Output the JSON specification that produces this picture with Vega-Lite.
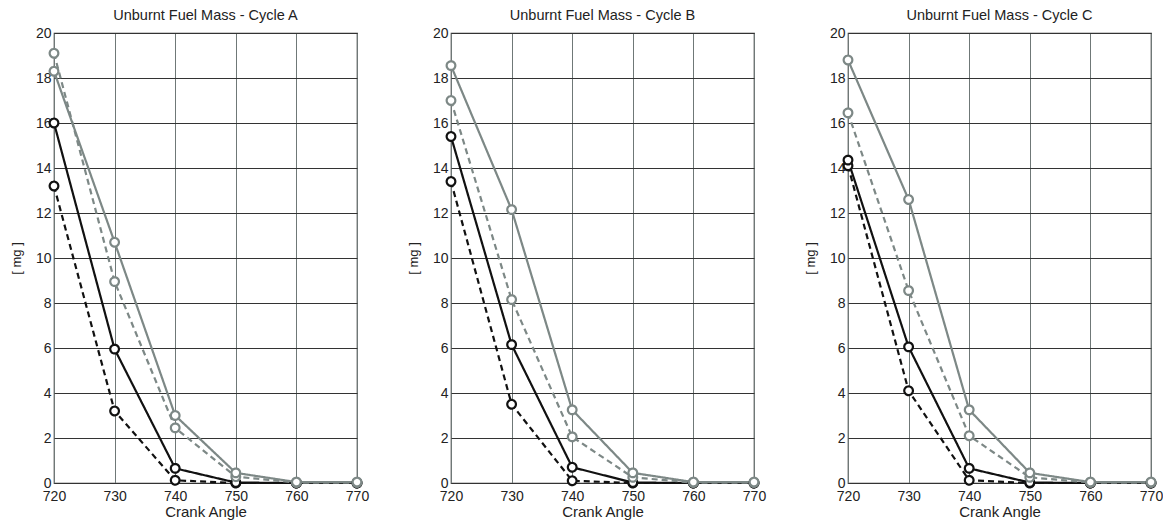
{
  "$schema": "https://vega.github.io/schema/vega-lite/v6.json",
  "padding": {"left": 9, "top": 6, "right": 2, "bottom": 3},
  "background": "white",
  "config": {
    "font": "Liberation Sans",
    "view": {"stroke": "#333333", "strokeWidth": 1.2},
    "axis": {
      "labelFont": "Liberation Sans", "labelFontSize": 14, "labelColor": "#222222",
      "titleFont": "Liberation Sans", "titleFontWeight": "normal", "titleColor": "#222222",
      "domain": false, "ticks": false, "grid": true, "gridOpacity": 1
    },
    "axisX": {"titleFontSize": 15},
    "axisY": {"titleFontSize": 13},
    "title": {"font": "Liberation Sans", "fontSize": 14.5, "fontWeight": "normal", "color": "#222222", "offset": 3},
    "concat": {"spacing": 36}
  },
  "data": {"values": [
    {"cycle": "A", "series": "black dashed", "angle": 720, "mass": 13.2},
    {"cycle": "A", "series": "black dashed", "angle": 730, "mass": 3.2},
    {"cycle": "A", "series": "black dashed", "angle": 740, "mass": 0.12},
    {"cycle": "A", "series": "black dashed", "angle": 750, "mass": 0.0},
    {"cycle": "A", "series": "black dashed", "angle": 760, "mass": 0.0},
    {"cycle": "A", "series": "black dashed", "angle": 770, "mass": 0.0},
    {"cycle": "A", "series": "black solid", "angle": 720, "mass": 16.0},
    {"cycle": "A", "series": "black solid", "angle": 730, "mass": 5.95},
    {"cycle": "A", "series": "black solid", "angle": 740, "mass": 0.65},
    {"cycle": "A", "series": "black solid", "angle": 750, "mass": 0.02},
    {"cycle": "A", "series": "black solid", "angle": 760, "mass": 0.0},
    {"cycle": "A", "series": "black solid", "angle": 770, "mass": 0.0},
    {"cycle": "A", "series": "gray dashed", "angle": 720, "mass": 19.1},
    {"cycle": "A", "series": "gray dashed", "angle": 730, "mass": 8.95},
    {"cycle": "A", "series": "gray dashed", "angle": 740, "mass": 2.45},
    {"cycle": "A", "series": "gray dashed", "angle": 750, "mass": 0.28},
    {"cycle": "A", "series": "gray dashed", "angle": 760, "mass": 0.02},
    {"cycle": "A", "series": "gray dashed", "angle": 770, "mass": 0.02},
    {"cycle": "A", "series": "gray solid", "angle": 720, "mass": 18.3},
    {"cycle": "A", "series": "gray solid", "angle": 730, "mass": 10.7},
    {"cycle": "A", "series": "gray solid", "angle": 740, "mass": 3.0},
    {"cycle": "A", "series": "gray solid", "angle": 750, "mass": 0.45},
    {"cycle": "A", "series": "gray solid", "angle": 760, "mass": 0.04},
    {"cycle": "A", "series": "gray solid", "angle": 770, "mass": 0.04},

    {"cycle": "B", "series": "black dashed", "angle": 720, "mass": 13.4},
    {"cycle": "B", "series": "black dashed", "angle": 730, "mass": 3.5},
    {"cycle": "B", "series": "black dashed", "angle": 740, "mass": 0.1},
    {"cycle": "B", "series": "black dashed", "angle": 750, "mass": 0.0},
    {"cycle": "B", "series": "black dashed", "angle": 760, "mass": 0.0},
    {"cycle": "B", "series": "black dashed", "angle": 770, "mass": 0.0},
    {"cycle": "B", "series": "black solid", "angle": 720, "mass": 15.4},
    {"cycle": "B", "series": "black solid", "angle": 730, "mass": 6.15},
    {"cycle": "B", "series": "black solid", "angle": 740, "mass": 0.7},
    {"cycle": "B", "series": "black solid", "angle": 750, "mass": 0.02},
    {"cycle": "B", "series": "black solid", "angle": 760, "mass": 0.0},
    {"cycle": "B", "series": "black solid", "angle": 770, "mass": 0.0},
    {"cycle": "B", "series": "gray dashed", "angle": 720, "mass": 17.0},
    {"cycle": "B", "series": "gray dashed", "angle": 730, "mass": 8.15},
    {"cycle": "B", "series": "gray dashed", "angle": 740, "mass": 2.05},
    {"cycle": "B", "series": "gray dashed", "angle": 750, "mass": 0.25},
    {"cycle": "B", "series": "gray dashed", "angle": 760, "mass": 0.02},
    {"cycle": "B", "series": "gray dashed", "angle": 770, "mass": 0.02},
    {"cycle": "B", "series": "gray solid", "angle": 720, "mass": 18.55},
    {"cycle": "B", "series": "gray solid", "angle": 730, "mass": 12.15},
    {"cycle": "B", "series": "gray solid", "angle": 740, "mass": 3.25},
    {"cycle": "B", "series": "gray solid", "angle": 750, "mass": 0.45},
    {"cycle": "B", "series": "gray solid", "angle": 760, "mass": 0.04},
    {"cycle": "B", "series": "gray solid", "angle": 770, "mass": 0.04},

    {"cycle": "C", "series": "black dashed", "angle": 720, "mass": 14.1},
    {"cycle": "C", "series": "black dashed", "angle": 730, "mass": 4.1},
    {"cycle": "C", "series": "black dashed", "angle": 740, "mass": 0.12},
    {"cycle": "C", "series": "black dashed", "angle": 750, "mass": 0.0},
    {"cycle": "C", "series": "black dashed", "angle": 760, "mass": 0.0},
    {"cycle": "C", "series": "black dashed", "angle": 770, "mass": 0.0},
    {"cycle": "C", "series": "black solid", "angle": 720, "mass": 14.35},
    {"cycle": "C", "series": "black solid", "angle": 730, "mass": 6.05},
    {"cycle": "C", "series": "black solid", "angle": 740, "mass": 0.65},
    {"cycle": "C", "series": "black solid", "angle": 750, "mass": 0.02},
    {"cycle": "C", "series": "black solid", "angle": 760, "mass": 0.0},
    {"cycle": "C", "series": "black solid", "angle": 770, "mass": 0.0},
    {"cycle": "C", "series": "gray dashed", "angle": 720, "mass": 16.45},
    {"cycle": "C", "series": "gray dashed", "angle": 730, "mass": 8.55},
    {"cycle": "C", "series": "gray dashed", "angle": 740, "mass": 2.1},
    {"cycle": "C", "series": "gray dashed", "angle": 750, "mass": 0.25},
    {"cycle": "C", "series": "gray dashed", "angle": 760, "mass": 0.02},
    {"cycle": "C", "series": "gray dashed", "angle": 770, "mass": 0.02},
    {"cycle": "C", "series": "gray solid", "angle": 720, "mass": 18.8},
    {"cycle": "C", "series": "gray solid", "angle": 730, "mass": 12.6},
    {"cycle": "C", "series": "gray solid", "angle": 740, "mass": 3.25},
    {"cycle": "C", "series": "gray solid", "angle": 750, "mass": 0.45},
    {"cycle": "C", "series": "gray solid", "angle": 760, "mass": 0.04},
    {"cycle": "C", "series": "gray solid", "angle": 770, "mass": 0.04}
  ]},
  "hconcat": [
    {
      "title": "Unburnt Fuel Mass - Cycle A",
      "width": 303, "height": 450,
      "transform": [{"filter": "datum.cycle == 'A'"}],
      "encoding": {
        "x": {"field": "angle", "type": "quantitative", "title": "Crank Angle",
              "scale": {"domain": [720, 770], "nice": false, "zero": false},
              "axis": {"values": [720, 730, 740, 750, 760, 770], "labelPadding": 6, "titlePadding": 1, "gridColor": "#6f7877", "labelFlush": false}},
        "y": {"field": "mass", "type": "quantitative", "title": "[ mg ]",
              "scale": {"domain": [0, 20], "nice": false},
              "axis": {"values": [0, 2, 4, 6, 8, 10, 12, 14, 16, 18, 20], "labelPadding": 3, "maxExtent": 22, "minExtent": 22, "titlePadding": 9, "gridColor": "#333333"}},
        "color": {"field": "series", "type": "nominal", "legend": null,
                  "scale": {"domain": ["black dashed", "black solid", "gray dashed", "gray solid"], "range": ["#111111", "#111111", "#7d8886", "#7d8886"]}},
        "strokeDash": {"field": "series", "type": "nominal", "legend": null,
                  "scale": {"domain": ["black dashed", "black solid", "gray dashed", "gray solid"], "range": [[6, 4], [1, 0], [6, 4], [1, 0]]}},
        "detail": {"field": "series"}
      },
      "layer": [
        {"mark": {"type": "line", "strokeWidth": 2.2, "clip": false}},
        {"mark": {"type": "point", "filled": false, "fill": "white", "fillOpacity": 1, "size": 75, "strokeWidth": 2.2, "opacity": 1, "clip": false}, "encoding": {"strokeDash": {"value": [1, 0]}}}
      ]
    },
    {
      "title": "Unburnt Fuel Mass - Cycle B",
      "width": 303, "height": 450,
      "transform": [{"filter": "datum.cycle == 'B'"}],
      "encoding": {
        "x": {"field": "angle", "type": "quantitative", "title": "Crank Angle",
              "scale": {"domain": [720, 770], "nice": false, "zero": false},
              "axis": {"values": [720, 730, 740, 750, 760, 770], "labelPadding": 6, "titlePadding": 1, "gridColor": "#6f7877", "labelFlush": false}},
        "y": {"field": "mass", "type": "quantitative", "title": "[ mg ]",
              "scale": {"domain": [0, 20], "nice": false},
              "axis": {"values": [0, 2, 4, 6, 8, 10, 12, 14, 16, 18, 20], "labelPadding": 3, "maxExtent": 22, "minExtent": 22, "titlePadding": 9, "gridColor": "#333333"}},
        "color": {"field": "series", "type": "nominal", "legend": null,
                  "scale": {"domain": ["black dashed", "black solid", "gray dashed", "gray solid"], "range": ["#111111", "#111111", "#7d8886", "#7d8886"]}},
        "strokeDash": {"field": "series", "type": "nominal", "legend": null,
                  "scale": {"domain": ["black dashed", "black solid", "gray dashed", "gray solid"], "range": [[6, 4], [1, 0], [6, 4], [1, 0]]}},
        "detail": {"field": "series"}
      },
      "layer": [
        {"mark": {"type": "line", "strokeWidth": 2.2, "clip": false}},
        {"mark": {"type": "point", "filled": false, "fill": "white", "fillOpacity": 1, "size": 75, "strokeWidth": 2.2, "opacity": 1, "clip": false}, "encoding": {"strokeDash": {"value": [1, 0]}}}
      ]
    },
    {
      "title": "Unburnt Fuel Mass - Cycle C",
      "width": 303, "height": 450,
      "transform": [{"filter": "datum.cycle == 'C'"}],
      "encoding": {
        "x": {"field": "angle", "type": "quantitative", "title": "Crank Angle",
              "scale": {"domain": [720, 770], "nice": false, "zero": false},
              "axis": {"values": [720, 730, 740, 750, 760, 770], "labelPadding": 6, "titlePadding": 1, "gridColor": "#6f7877", "labelFlush": false}},
        "y": {"field": "mass", "type": "quantitative", "title": "[ mg ]",
              "scale": {"domain": [0, 20], "nice": false},
              "axis": {"values": [0, 2, 4, 6, 8, 10, 12, 14, 16, 18, 20], "labelPadding": 3, "maxExtent": 22, "minExtent": 22, "titlePadding": 9, "gridColor": "#333333"}},
        "color": {"field": "series", "type": "nominal", "legend": null,
                  "scale": {"domain": ["black dashed", "black solid", "gray dashed", "gray solid"], "range": ["#111111", "#111111", "#7d8886", "#7d8886"]}},
        "strokeDash": {"field": "series", "type": "nominal", "legend": null,
                  "scale": {"domain": ["black dashed", "black solid", "gray dashed", "gray solid"], "range": [[6, 4], [1, 0], [6, 4], [1, 0]]}},
        "detail": {"field": "series"}
      },
      "layer": [
        {"mark": {"type": "line", "strokeWidth": 2.2, "clip": false}},
        {"mark": {"type": "point", "filled": false, "fill": "white", "fillOpacity": 1, "size": 75, "strokeWidth": 2.2, "opacity": 1, "clip": false}, "encoding": {"strokeDash": {"value": [1, 0]}}}
      ]
    }
  ]
}
